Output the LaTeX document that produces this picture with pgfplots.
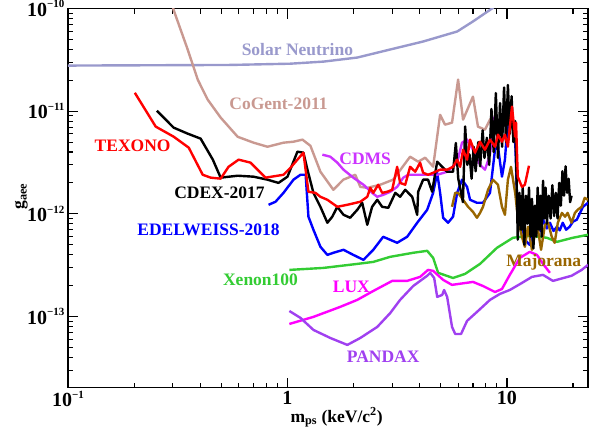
\documentclass[border=0pt]{standalone}
\usepackage{fontspec}
\setmainfont{Liberation Serif}
\usepackage{pgfplots}
\pgfplotsset{compat=1.18}
\definecolor{cSol}{RGB}{153,153,204}
\definecolor{cCoG}{RGB}{201,153,145}
\definecolor{cTEX}{RGB}{255,0,0}
\definecolor{cEDW}{RGB}{0,0,255}
\definecolor{cCDMS}{RGB}{204,51,255}
\definecolor{cXe}{RGB}{51,204,51}
\definecolor{cLUX}{RGB}{255,0,255}
\definecolor{cPX}{RGB}{160,64,240}
\definecolor{cMaj}{RGB}{153,102,0}
\newcommand{\sups}[1]{\raisebox{0.42em}{\fontsize{11}{12}\selectfont\bfseries #1}}
\newcommand{\lbl}{\fontsize{17.5}{20}\selectfont\bfseries}
\newcommand{\tlbl}{\fontsize{20}{22}\selectfont\bfseries}
\begin{document}
\begin{tikzpicture}
\useasboundingbox (-68pt,-44.5pt) rectangle (522pt,387.5pt);
\begin{axis}[
  at={(0pt,0pt)}, anchor=south west,
  scale only axis, width=520pt, height=379pt,
  xmode=log, ymode=log,
  xmin=0.1, xmax=23.4, ymin=2.03e-14, ymax=1e-10,
  axis line style={line width=1.8pt},
  tick style={line width=1.1pt, black},
  major tick length=10pt, minor tick length=5pt,
  tick align=inside, tick pos=both,
  xtick={0.1,1,10},
  xticklabels={{10\sups{−1}},1,10},
  minor xtick={0.2,0.3,0.4,0.5,0.6,0.7,0.8,0.9,2,3,4,5,6,7,8,9,20},
  ytick={1e-13,1e-12,1e-11,1e-10},
  yticklabels={{10\sups{−13}},{10\sups{−12}},{10\sups{−11}},{10\sups{−10}}},
  minor ytick={3e-14,4e-14,5e-14,6e-14,7e-14,8e-14,9e-14,2e-13,3e-13,4e-13,5e-13,6e-13,7e-13,8e-13,9e-13,2e-12,3e-12,4e-12,5e-12,6e-12,7e-12,8e-12,9e-12,2e-11,3e-11,4e-11,5e-11,6e-11,7e-11,8e-11,9e-11},
  ticklabel style={font=\tlbl},
  every axis plot/.append style={line width=2.4pt, line join=round, mark=none},
]
% Solar neutrino
\addplot[cSol] coordinates {(0.1,2.78e-11) (0.55,2.82e-11) (1.03,2.9e-11) (1.46,3.04e-11) (2.08,3.33e-11) (2.94,3.99e-11) (4.15,4.77e-11) (5.93,5.97e-11) (7.0,7.48e-11) (8.55,1e-10) (9.0,1.1e-10)};
% CoGent-2011
\addplot[cCoG] coordinates {(0.300,1.05e-10) (0.303,9.66e-11) (0.351,3.99e-11) (0.390,2.03e-11) (0.433,1.295e-11) (0.496,8.66e-12) (0.593,5.63e-12) (0.701,4.93e-12) (0.811,4.5e-12) (0.959,4.93e-12) (1.065,5.04e-12) (1.170,5.28e-12) (1.272,4.6e-12) (1.413,2.57e-12) (1.618,1.715e-12) (1.797,2.15e-12) (2.037,2.4e-12) (2.147,1.83e-12) (2.311,1.79e-12) (2.647,1.92e-12) (3.03,2.15e-12) (3.62,3.6e-12) (3.94,3.22e-12) (4.24,3.52e-12) (4.61,2.88e-12) (4.96,9.22e-12) (5.22,7.39e-12) (5.62,7.73e-12) (5.99,2.03e-11) (6.31,8.27e-12) (7.0,1.385e-11) (7.38,7.06e-12) (7.94,6.6e-12) (8.37,8.27e-12) (8.63,8.83e-12)};
% Xenon100
\addplot[cXe] coordinates {(1.02,2.84e-13) (1.458,2.97e-13) (2.08,3.25e-13) (2.46,3.40e-13) (2.94,3.81e-13) (3.74,4.17e-13) (4.33,4.36e-13) (4.61,3.72e-13) (4.86,2.66e-13) (5.68,2.37e-13) (6.45,2.60e-13) (7.54,3.25e-13) (9.0,4.66e-13) (10.65,5.84e-13) (12.7,6.11e-13) (15.2,5.84e-13) (16.9,5.33e-13) (19.95,5.84e-13) (23.4,6.25e-13)};
% LUX
\addplot[cLUX] coordinates {(1.02,8.45e-14) (1.313,9.9e-14) (1.74,1.24e-13) (2.08,1.45e-13) (2.46,1.77e-13) (3.0,2.22e-13) (3.51,2.22e-13) (4.02,2.43e-13) (4.37,2.84e-13) (4.61,2.78e-13) (5.12,2.27e-13) (5.62,2.03e-13) (7.0,2.17e-13) (7.78,1.98e-13) (8.82,1.73e-13) (9.49,1.85e-13) (10.3,2.54e-13) (11.46,3.72e-13) (12.7,4.26e-13) (13.7,3.98e-13) (14.6,3.25e-13) (15.7,2.66e-13)};
% PANDAX
\addplot[cPX] coordinates {(1.02,1.13e-13) (1.146,9.68e-14) (1.313,7.39e-14) (1.567,6.17e-14) (1.874,5.28e-14) (2.147,6.17e-14) (2.565,7.91e-14) (2.94,1.08e-13) (3.26,1.45e-13) (3.74,1.98e-13) (4.33,2.49e-13) (4.47,2.66e-13) (4.66,2.37e-13) (4.81,1.55e-13) (5.07,1.62e-13) (5.17,1.81e-13) (5.34,1.55e-13) (5.62,7.91e-14) (5.81,6.75e-14) (6.18,6.75e-14) (6.58,9.05e-14) (7.38,1.13e-13) (8.37,1.45e-13) (9.3,1.66e-13) (10.3,1.81e-13) (11.7,2.12e-13) (13.0,2.43e-13) (14.6,2.54e-13) (16.2,2.22e-13) (19.7,2.49e-13) (21.9,2.84e-13) (23.4,3.18e-13)};
% EDELWEISS-2018
\addplot[cEDW] coordinates {(0.82,1.224e-12) (0.882,1.31e-12) (0.959,1.60e-12) (1.065,2.15e-12) (1.146,2.40e-12) (1.21,2.40e-12) (1.246,9.37e-13) (1.313,6.99e-13) (1.413,4.77e-13) (1.52,3.98e-13) (1.618,4.17e-13) (1.80,4.46e-13) (1.995,3.98e-13) (2.22,3.56e-13) (2.46,4.46e-13) (2.73,5.97e-13) (3.16,5.22e-13) (3.51,5.97e-13) (3.90,8.18e-13) (4.33,1.094e-12) (4.61,1.60e-12) (4.81,2.51e-12) (4.96,1.60e-12) (5.12,9.15e-13) (5.39,8.18e-13) (5.68,9.37e-13) (5.93,1.60e-12) (6.24,2.15e-12) (6.58,1.83e-12) (6.79,1.37e-12) (7.3,1.28e-12) (7.78,1.28e-12) (8.37,1.60e-12) (8.82,4.21e-12) (9.10,4.51e-12) (9.49,2.30e-12) (9.79,3.37e-12) (10.1,8.27e-12) (10.54,8.85e-12) (10.9,5.28e-12) (11.1,1.60e-12) (11.46,9.37e-13) (12.07,5.58e-13) (12.7,4.98e-13) (13.2,6.5e-13) (13.7,8.18e-13) (14.2,6.8e-13) (14.6,8.75e-13) (15.2,7.2e-13) (15.7,8.18e-13) (16.3,6.8e-13) (16.9,7.48e-13) (17.4,6.9e-13) (17.96,8.18e-13) (18.6,7.0e-13) (19.3,7.48e-13) (20.0,8.4e-13) (20.8,8.75e-13) (22.2,1.17e-12) (23.4,1.28e-12)};
% Majorana
\addplot[cMaj] coordinates {(5.62,1.17e-12) (5.81,1.60e-12) (5.99,1.60e-12) (6.31,1.37e-12) (6.65,1.17e-12) (7.0,1.046e-12) (7.3,9.15e-13) (7.54,1.02e-12) (7.78,1.17e-12) (8.2,1.715e-12) (8.63,2.15e-12) (9.10,1.92e-12) (9.49,1.17e-12) (9.79,9.78e-13) (10.1,2.15e-12) (10.43,2.87e-12) (10.9,1.60e-12) (11.2,9.37e-13) (11.7,5.97e-13) (12.07,4.77e-13) (12.46,7.48e-13) (13.0,4.46e-13) (13.4,6.25e-13) (13.85,6.99e-13) (14.3,4.46e-13) (14.9,7.82e-13) (15.4,8.18e-13) (16.0,5.97e-13) (16.5,5.22e-13) (17.05,8.18e-13) (17.8,1.02e-12) (18.4,9.37e-13) (18.9,1.02e-12) (19.7,8.18e-13) (20.4,1.02e-12) (21.0,1.094e-12) (21.9,1.17e-12) (22.6,1.43e-12) (23.4,1.37e-12)};
% CDMS
\addplot[cCDMS] coordinates {(1.442,3.77e-12) (1.567,3.60e-12) (1.687,3.15e-12) (1.80,2.69e-12) (1.995,2.25e-12) (2.22,1.92e-12) (2.43,1.60e-12) (2.565,1.465e-12) (2.73,1.53e-12) (2.94,1.64e-12) (3.16,1.83e-12) (3.37,2.25e-12) (3.55,2.40e-12) (3.90,2.40e-12) (4.33,2.40e-12) (4.81,2.40e-12) (5.34,2.57e-12) (5.93,3.15e-12) (6.24,4.93e-12) (6.58,5.28e-12) (7.0,4.21e-12) (7.54,3.0e-12) (7.94,2.69e-12) (8.37,3.77e-12) (8.72,8.85e-12)};
% CDEX-2017
\addplot[black] coordinates {(0.254,1.01e-11) (0.303,6.91e-12) (0.351,6.04e-12) (0.402,5.40e-12) (0.457,3.37e-12) (0.496,2.25e-12) (0.593,2.35e-12) (0.70,2.30e-12) (0.811,2.15e-12) (0.910,2.0e-12) (1.0,2.30e-12) (1.11,4.03e-12) (1.182,3.94e-12) (1.233,2.69e-12) (1.313,1.60e-12) (1.413,1.17e-12) (1.52,8.18e-13) (1.60,9.37e-13) (1.687,1.17e-12) (1.80,9.78e-13) (1.93,9.15e-13) (2.08,1.094e-12) (2.19,1.28e-12) (2.31,7.82e-13) (2.43,1.17e-12) (2.565,1.37e-12) (2.70,1.17e-12) (2.88,1.144e-12) (3.10,1.60e-12) (3.26,1.465e-12) (3.44,1.715e-12) (3.70,1.465e-12) (3.90,9.78e-13) (3.94,1.64e-12) (4.15,2.15e-12) (4.37,2.15e-12) (4.56,1.64e-12) (4.81,3.22e-12) (5.07,2.87e-12) (5.34,2.57e-12) (5.68,2.57e-12) (5.85,4.9e-12) (6.0,2.2e-12) (6.15,1.7e-12) (6.3,1.3e-12) (6.45,7.1e-12) (6.6,3.0e-12) (6.75,3.8e-12) (6.9,2.2e-12) (7.05,4.5e-12) (7.2,2.6e-12) (7.4,5.0e-12) (7.55,2.9e-12) (7.75,6.5e-12) (7.9,3.5e-12) (8.1,5.5e-12) (8.3,3.0e-12) (8.5,1.05e-11) (8.7,4.0e-12) (8.9,1.5e-11) (9.1,3.5e-12) (9.3,1.2e-11) (9.5,4.5e-12) (9.7,1.7e-11) (9.9,5.0e-12) (10.1,1.8e-11) (10.3,6.0e-12) (10.5,1.4e-11) (10.7,5.0e-12) (10.9,8.0e-12) (11.05,2.5e-12) (11.2,5.6e-13) (11.4,1.6e-12) (11.6,7e-13) (11.8,1.8e-12) (12.0,5e-13) (12.2,1.5e-12) (12.4,8e-13) (12.6,1.8e-12) (12.8,6e-13) (13.0,1.4e-12) (13.2,4.6e-13) (13.4,1.2e-12) (13.6,6e-13) (13.8,1.8e-12) (14.0,7e-13) (14.2,1.5e-12) (14.4,6e-13) (14.6,2.1e-12) (14.8,9e-13) (15.0,1.8e-12) (15.2,8e-13) (15.5,1.5e-12) (15.8,9e-13) (16.1,1.9e-12) (16.4,9.5e-13) (16.7,1.6e-12) (17.0,9e-13) (17.3,2.0e-12) (17.6,1.2e-12) (17.9,2.6e-12) (18.2,1.5e-12) (18.5,2.9e-12) (18.8,1.6e-12) (19.1,2.2e-12) (19.4,1.3e-12) (19.7,1.5e-12)};
% TEXONO
\addplot[cTEX] coordinates {(0.2016,1.51e-11) (0.251,7.07e-12) (0.303,5.64e-12) (0.355,4.41e-12) (0.411,2.40e-12) (0.447,2.25e-12) (0.496,2.20e-12) (0.539,2.87e-12) (0.599,3.37e-12) (0.679,3.15e-12) (0.794,2.25e-12) (0.959,2.40e-12) (1.032,2.81e-12) (1.182,3.94e-12) (1.246,1.64e-12) (1.341,1.60e-12) (1.413,1.465e-12) (1.52,1.37e-12) (1.687,1.17e-12) (1.874,1.224e-12) (2.147,1.31e-12) (2.31,1.465e-12) (2.385,1.79e-12) (2.46,1.60e-12) (2.59,1.92e-12) (2.70,1.60e-12) (2.85,1.64e-12) (3.0,1.715e-12) (3.16,2.87e-12) (3.26,2.0e-12) (3.44,1.92e-12) (3.62,2.87e-12) (3.82,2.57e-12) (4.02,3.15e-12) (4.15,2.51e-12) (4.37,2.40e-12) (4.61,2.51e-12) (4.96,2.69e-12) (5.34,2.69e-12) (5.68,2.87e-12) (5.93,3.37e-12) (6.12,2.87e-12) (6.31,4.21e-12) (6.58,3.37e-12) (6.79,5.28e-12) (7.15,3.94e-12) (7.54,5.04e-12) (7.94,4.21e-12) (8.37,5.28e-12) (8.82,4.51e-12) (9.10,5.9e-12) (9.49,5.04e-12) (9.79,5.9e-12) (10.1,4.51e-12) (10.54,1.106e-11) (10.9,5.64e-12) (11.0,7.73e-12) (11.2,2.30e-12) (11.7,1.83e-12) (12.07,1.92e-12) (12.6,2.94e-12)};
% labels
\node[font=\lbl, text=cSol] at (axis cs:1.11,3.98e-11) {Solar Neutrino};
\node[font=\lbl, text=cCoG] at (axis cs:0.91,1.18e-11) {CoGent-2011};
\node[font=\lbl, text=cTEX] at (axis cs:0.197,4.61e-12) {TEXONO};
\node[font=\lbl, text=black] at (axis cs:0.49,1.60e-12) {CDEX-2017};
\node[font=\lbl, text=cEDW] at (axis cs:0.437,6.99e-13) {EDELWEISS-2018};
\node[font=\lbl, text=cCDMS] at (axis cs:2.26,3.44e-12) {CDMS};
\node[font=\lbl, text=cXe] at (axis cs:0.754,2.27e-13) {Xenon100};
\node[font=\lbl, text=cLUX] at (axis cs:1.954,1.94e-13) {LUX};
\node[font=\lbl, text=cPX] at (axis cs:2.73,4.03e-14) {PANDAX};
\node[font=\lbl, text=cMaj] at (axis cs:14.7,3.40e-13) {Majorana};
\end{axis}
\node[font=\lbl, anchor=base west] at (219pt,-34.5pt) {m\textsubscript{ps} (keV/c\textsuperscript{2})};
\node[font=\lbl, anchor=base west, rotate=90] at (-44pt,174.5pt) {g\textsubscript{aee}};
\end{tikzpicture}
\end{document}
